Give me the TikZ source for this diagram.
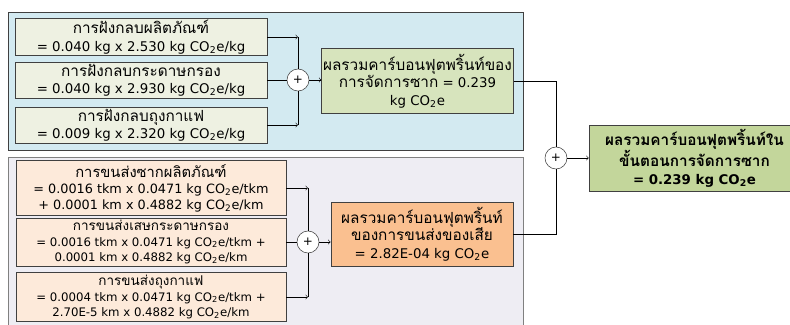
\documentclass[tikz,border=0pt]{standalone}
\usepackage{fontspec}
\setmainfont{DejaVu Sans}
\newfontfamily\thai[Script=Thai, Scale=1.15]{Loma}
\definecolor{panelblue}{RGB}{211,234,241}
\definecolor{panelgray}{RGB}{238,237,243}
\definecolor{landfill}{RGB}{238,241,226}
\definecolor{sumgreen}{RGB}{215,228,189}
\definecolor{totalgreen}{RGB}{195,214,155}
\definecolor{shipfill}{RGB}{253,234,218}
\definecolor{shiporange}{RGB}{250,192,144}
\definecolor{boxline}{RGB}{64,64,64}
\newcommand{\cotwo}{CO\textsubscript{2}e}

\begin{document}
\begin{tikzpicture}[>=to, x=0.75pt, y=-0.75pt,
  box/.style={draw=boxline, line width=0.6pt, align=center, inner sep=1pt},
  plus/.style={circle, draw=boxline, fill=white, minimum size=16.5pt, inner sep=0pt, font=\small}]
\useasboundingbox (0,0) rectangle (790,325);
\draw[fill=panelblue, draw=boxline] (8,12) rectangle (523,150);
\draw[fill=panelgray, draw=gray] (8,157) rectangle (523,330);

\node[box, fill=landfill, minimum width=189pt, minimum height=27pt, font=\fontsize{10}{13}\selectfont] (fill1) at (141,37) {{\thai การฝังกลบผลิตภัณฑ์}\\= 0.040 kg x 2.530 kg \cotwo/kg};
\node[box, fill=landfill, minimum width=189pt, minimum height=27pt, font=\fontsize{10}{13}\selectfont] (fill2) at (141,80) {{\thai การฝังกลบกระดาษกรอง}\\= 0.040 kg x 2.930 kg \cotwo/kg};
\node[box, fill=landfill, minimum width=189pt, minimum height=27pt, font=\fontsize{10}{13}\selectfont] (fill3) at (141,125) {{\thai การฝังกลบถุงกาแฟ}\\= 0.009 kg x 2.320 kg \cotwo/kg};
\node[plus] (p1) at (298,80) {+};
\node[box, fill=sumgreen, minimum width=143pt, minimum height=49pt, font=\fontsize{10}{13}\selectfont] (sum1) at (417.5,81) {{\thai ผลรวมคาร์บอนฟุตพริ้นท์ของ}\\{\thai การจัดการซาก} = 0.239\\kg CO\textsubscript{2}e};

\node[box, fill=shipfill, minimum width=202.5pt, minimum height=41pt, font=\fontsize{9.6}{12}\selectfont] (ship1) at (151,188) {{\thai การขนส่งซากผลิตภัณฑ์}\\= 0.0016 tkm x 0.0471 kg \cotwo/tkm\\+ 0.0001 km x 0.4882 kg \cotwo/km};
\node[box, fill=shipfill, minimum width=202.5pt, minimum height=36pt, font=\fontsize{8.8}{11.5}\selectfont] (ship2) at (151,242) {{\thai การขนส่งเสษกระดาษกรอง}\\= 0.0016 tkm x 0.0471 kg \cotwo/tkm +\\0.0001 km x 0.4882 kg \cotwo/km};
\node[box, fill=shipfill, minimum width=202.5pt, minimum height=37pt, font=\fontsize{8.8}{11.5}\selectfont] (ship3) at (151,297) {{\thai การขนส่งถุงกาแฟ}\\= 0.0004 tkm x 0.0471 kg \cotwo/tkm +\\2.70E-5 km x 0.4882 kg \cotwo/km};
\node[plus] (p2) at (308,242) {+};
\node[box, fill=shiporange, minimum width=136.5pt, minimum height=48pt, font=\fontsize{10}{13}\selectfont] (sum2) at (422,234) {{\thai ผลรวมคาร์บอนฟุตพริ้นท์}\\{\thai ของการขนส่งของเสีย}\\= 2.82E-04 kg \cotwo};

\node[plus] (p3) at (556,158) {+};
\node[box, fill=totalgreen, minimum width=158pt, minimum height=49.5pt, font=\bfseries\fontsize{10}{13}\selectfont] (total) at (694.5,158) {{\thai ผลรวมคาร์บอนฟุตพริ้นท์ใน}\\{\thai ขั้นตอนการจัดการซาก}\\= 0.239 kg CO\textsubscript{2}e};

% landfill branch
\draw[->] (fill1.east) -- (fill1.east -| p1);
\draw (fill1.east -| p1) -- (p1.north);
\draw (fill2.east) -- (p1.west);
\draw[->] (fill3.east) -- (fill3.east -| p1);
\draw (fill3.east -| p1) -- (p1.south);
\draw[->] (p1.east) -- (p1 -| sum1.west);

% transport branch
\draw[->] (ship1.east) -- (ship1.east -| p2);
\draw (ship1.east -| p2) -- (p2.north);
\draw (ship2.east) -- (p2.west);
\draw[->] (ship3.east) -- (ship3.east -| p2);
\draw (ship3.east -| p2) -- (p2.south);
\draw[->] (p2.east) -- (p2 -| sum2.west);

% total
\draw (sum1.east) -- (sum1.east -| p3) -- (p3.north);
\draw (sum2.east) -- (sum2.east -| p3) -- (p3.south);
\draw[->] (p3.east) -- (total.west);
\end{tikzpicture}
\end{document}
